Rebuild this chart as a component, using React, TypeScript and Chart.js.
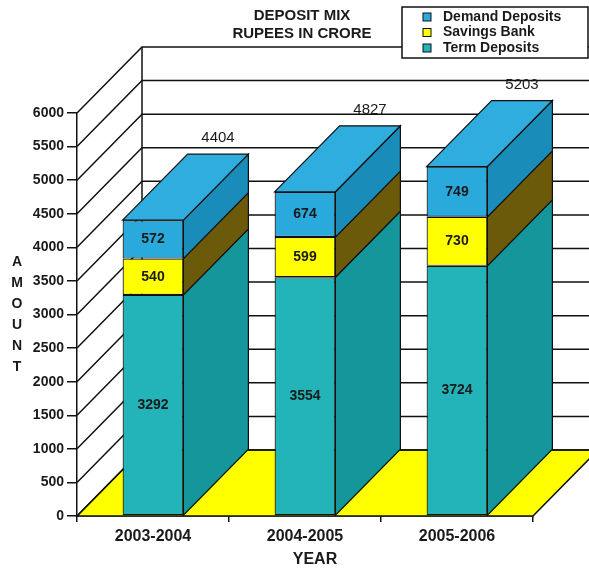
import React, { useEffect, useRef } from "react";
import { Chart, registerables } from "chart.js";

Chart.register(...registerables);

// ---- data ----
const categories = ["2003-2004", "2004-2005", "2005-2006"];
const termDeposits = [3292, 3554, 3724];
const savingsBank = [540, 599, 730];
const demandDeposits = [572, 674, 749];
const totals = [4404, 4827, 5203];
const yMin = 0;
const yMax = 6000;
const yStep = 500;
const titleLines = ["DEPOSIT MIX", "RUPEES IN CRORE"];
const yAxisTitle = "AMOUNT";
const xAxisTitle = "YEAR";
const legendOrder = ["Demand Deposits", "Savings Bank", "Term Deposits"];

// ---- styles ----
const FONT = '"Liberation Sans", Arial, Helvetica, sans-serif';
const DX = 65;
const DY = -66;
const LINE = "#111";
const colors: Record<string, { front: string; side: string; top: string }> = {
  "Term Deposits": { front: "#22b4b9", side: "#15969a", top: "#22b4b9" },
  "Savings Bank": { front: "#ffff00", side: "#6b5a0a", top: "#ffff00" },
  "Demand Deposits": { front: "#2aa9dc", side: "#1a8cba", top: "#30addf" },
};

const depthPlugin = {
  id: "depth3d",
  beforeDatasetsDraw(chart: any) {
    const { ctx, chartArea: a, scales } = chart;
    const y = scales.y;
    const W = chart.width;
    ctx.save();
    ctx.strokeStyle = LINE;
    ctx.lineWidth = 1.5;
    // floor
    ctx.beginPath();
    ctx.moveTo(a.left, a.bottom);
    ctx.lineTo(a.right, a.bottom);
    ctx.lineTo(a.right + DX, a.bottom + DY);
    ctx.lineTo(a.left + DX, a.bottom + DY);
    ctx.closePath();
    ctx.fillStyle = "#ffff00";
    ctx.fill();
    ctx.stroke();
    // back wall grid + oblique lines
    for (const t of y.ticks) {
      const py = y.getPixelForValue(t.value);
      ctx.beginPath();
      ctx.moveTo(a.left, py);
      ctx.lineTo(a.left + DX, py + DY);
      ctx.lineTo(W, py + DY);
      ctx.stroke();
    }
    // back wall left edge
    ctx.beginPath();
    ctx.moveTo(a.left + DX, y.getPixelForValue(yMin) + DY);
    ctx.lineTo(a.left + DX, y.getPixelForValue(yMax) + DY);
    ctx.stroke();
    ctx.restore();
  },
  afterDatasetsDraw(chart: any) {
    const { ctx } = chart;
    const n = chart.data.datasets.length;
    ctx.save();
    ctx.strokeStyle = LINE;
    ctx.lineWidth = 1.2;
    for (let i = 0; i < n; i++) {
      const ds = chart.data.datasets[i];
      const c = colors[ds.label];
      const meta = chart.getDatasetMeta(i);
      meta.data.forEach((bar: any, j: number) => {
        const p = bar.getProps(["x", "y", "base", "width"], true);
        const L = p.x - p.width / 2;
        const R = p.x + p.width / 2;
        const top = Math.min(p.y, p.base);
        const base = Math.max(p.y, p.base);
        // side face
        ctx.beginPath();
        ctx.moveTo(R, base);
        ctx.lineTo(R, top);
        ctx.lineTo(R + DX, top + DY);
        ctx.lineTo(R + DX, base + DY);
        ctx.closePath();
        ctx.fillStyle = c.side;
        ctx.fill();
        ctx.stroke();
        // top face
        if (i === n - 1) {
          ctx.beginPath();
          ctx.moveTo(L, top);
          ctx.lineTo(R, top);
          ctx.lineTo(R + DX, top + DY);
          ctx.lineTo(L + DX, top + DY);
          ctx.closePath();
          ctx.fillStyle = c.top;
          ctx.fill();
          ctx.stroke();
        }
        // segment label
        ctx.fillStyle = "#1a1a1a";
        ctx.font = `bold 14px ${FONT}`;
        ctx.textAlign = "center";
        ctx.textBaseline = "middle";
        ctx.fillText(String(ds.data[j]), p.x, (top + base) / 2);
      });
    }
    // totals
    const meta0 = chart.getDatasetMeta(0);
    ctx.font = `15px ${FONT}`;
    ctx.fillStyle = "#1a1a1a";
    ctx.textAlign = "center";
    ctx.textBaseline = "middle";
    meta0.data.forEach((bar: any, j: number) => {
      const yTop = chart.scales.y.getPixelForValue(totals[j]);
      ctx.fillText(String(totals[j]), bar.x + DX, yTop + DY - 16);
    });
    ctx.restore();
  },
  afterDraw(chart: any) {
    const { ctx } = chart;
    ctx.save();
    // title
    ctx.fillStyle = "#1a1a1a";
    ctx.font = `bold 15px ${FONT}`;
    ctx.textAlign = "center";
    ctx.textBaseline = "middle";
    ctx.fillText(titleLines[0], 302, 16);
    ctx.fillText(titleLines[1], 302, 34);
    // legend
    ctx.fillStyle = "#fff";
    ctx.fillRect(402, 7, 186, 51);
    ctx.strokeStyle = LINE;
    ctx.lineWidth = 1.5;
    ctx.strokeRect(402, 7, 186, 51);
    legendOrder.forEach((name, k) => {
      const cy = 17 + k * 15.5;
      ctx.fillStyle = colors[name].front;
      ctx.fillRect(423, cy - 4, 8, 8);
      ctx.lineWidth = 1;
      ctx.strokeRect(423, cy - 4, 8, 8);
      ctx.fillStyle = "#1a1a1a";
      ctx.font = `bold 14px ${FONT}`;
      ctx.textAlign = "left";
      ctx.textBaseline = "middle";
      ctx.fillText(name, 443, cy);
    });
    // y-axis title (stacked letters)
    ctx.font = `bold 14px ${FONT}`;
    ctx.textAlign = "center";
    ctx.textBaseline = "middle";
    ctx.fillStyle = "#1a1a1a";
    yAxisTitle.split("").forEach((ch, k) => {
      ctx.fillText(ch, 17, 262 + k * 21);
    });
    // x-axis title
    ctx.font = `bold 16px ${FONT}`;
    ctx.fillText(xAxisTitle, 315, 560);
    ctx.restore();
  },
};

export default function App() {
  const ref = useRef<HTMLCanvasElement>(null);
  useEffect(() => {
    const chart = new Chart(ref.current as HTMLCanvasElement, {
      type: "bar",
      data: {
        labels: categories,
        datasets: [
          { label: "Term Deposits", data: termDeposits, backgroundColor: colors["Term Deposits"].front },
          { label: "Savings Bank", data: savingsBank, backgroundColor: colors["Savings Bank"].front },
          { label: "Demand Deposits", data: demandDeposits, backgroundColor: colors["Demand Deposits"].front },
        ].map((d) => ({
          ...d,
          borderColor: LINE,
          borderWidth: 1.2,
          borderSkipped: false,
          barPercentage: 0.4,
          categoryPercentage: 1,
        })),
      },
      options: {
        responsive: false,
        animation: false,
        devicePixelRatio: 1,
        layout: { padding: { top: 113, right: 56, left: 0, bottom: 0 } },
        plugins: {
          legend: { display: false },
          title: { display: false },
          tooltip: { enabled: false },
        },
        scales: {
          x: {
            stacked: true,
            offset: true,
            grid: {
              offset: true,
              drawOnChartArea: false,
              drawTicks: true,
              tickLength: 6,
              color: LINE,
              lineWidth: 1.5,
            },
            border: { display: true, color: LINE, width: 1.5 },
            ticks: {
              color: "#1a1a1a",
              font: { family: FONT, size: 16, weight: "bold" },
              padding: 5,
              maxRotation: 0,
            },
            afterFit: (s: any) => {
              s.height = 55;
            },
          },
          y: {
            stacked: true,
            min: yMin,
            max: yMax,
            ticks: {
              stepSize: yStep,
              color: "#1a1a1a",
              font: { family: FONT, size: 14, weight: "bold" },
              padding: 3,
              callback: (v: any) => String(v),
            },
            grid: {
              drawOnChartArea: false,
              drawTicks: true,
              tickLength: 10,
              color: LINE,
              lineWidth: 1.5,
            },
            border: { display: true, color: LINE, width: 1.5 },
            afterFit: (s: any) => {
              s.width = 77;
            },
          },
        },
      } as any,
      plugins: [depthPlugin],
    });
    return () => chart.destroy();
  }, []);
  return (
    <div style={{ position: "absolute", left: 0, top: 0, width: 589, height: 571, background: "#fff" }}>
      <canvas ref={ref} width={589} height={571} style={{ display: "block", width: 589, height: 571 }} />
    </div>
  );
}
